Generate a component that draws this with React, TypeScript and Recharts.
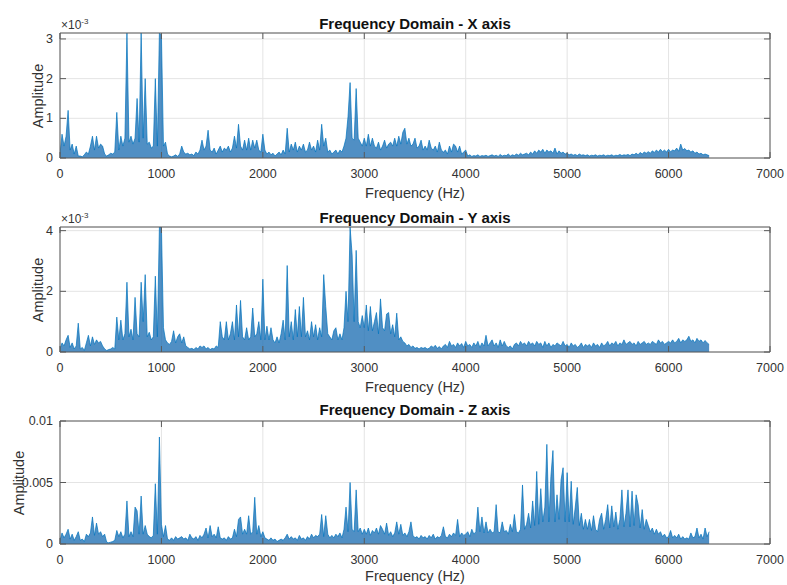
import React from "react";
import { ComposedChart, Area, XAxis, YAxis, CartesianGrid, ReferenceArea } from "recharts";

// Spectrum bins every 20 Hz from 0 to 6400 Hz.
const FREQ_STEP_HZ = 20;

// X axis amplitude, in units of 1e-3
const AMP_X = [
  0.1, 0.6, 0.3, 0.55, 1.2, 0.2, 0.35, 0.1, 0.3, 0.05,
  0.05, 0.03, 0.08, 0.15, 0.1, 0.3, 0.55, 0.2, 0.55, 0.25,
  0.35, 0.3, 0.1, 0.05, 0.08, 0.12, 0.1, 0.15, 1.15, 0.2,
  0.55, 0.3, 0.5, 3.15, 0.4, 0.55, 0.35, 0.5, 1.5, 0.4,
  3.15, 0.5, 2.0, 0.35, 0.4, 0.25, 0.3, 2.0, 0.3, 3.15,
  3.1, 0.3, 0.4, 0.1, 0.05, 0.03, 0.05, 0.08, 0.04, 0.1,
  0.3, 0.15, 0.1, 0.12, 0.08, 0.1, 0.06, 0.15, 0.1, 0.2,
  0.45, 0.2, 0.3, 0.7, 0.2, 0.15, 0.25, 0.1, 0.2, 0.3,
  0.15, 0.25, 0.2, 0.3, 0.15, 0.25, 0.55, 0.25, 0.85, 0.3,
  0.2, 0.45, 0.2, 0.5, 0.2, 0.45, 0.25, 0.45, 0.2, 0.15,
  0.6, 0.2, 0.1, 0.15, 0.08, 0.12, 0.05, 0.1, 0.15, 0.08,
  0.2, 0.1, 0.75, 0.15, 0.35, 0.2, 0.4, 0.15, 0.3, 0.2,
  0.35, 0.15, 0.2, 0.4, 0.2, 0.3, 0.15, 0.45, 0.2, 0.85,
  0.3, 0.5, 0.15, 0.2, 0.1, 0.15, 0.2, 0.1, 0.2, 0.15,
  0.3, 0.5, 1.05, 1.9, 0.5, 0.45, 1.75, 0.5, 0.4, 0.3,
  0.5, 0.3, 0.6, 0.3, 0.5, 0.3, 0.25, 0.4, 0.2, 0.3,
  0.45, 0.25, 0.35, 0.4, 0.3, 0.5, 0.3, 0.55, 0.35, 0.65,
  0.75, 0.35, 0.5, 0.3, 0.35, 0.5, 0.25, 0.3, 0.45, 0.2,
  0.3, 0.2, 0.45, 0.25, 0.2, 0.3, 0.15, 0.4, 0.2, 0.15,
  0.2, 0.1, 0.3, 0.15, 0.35, 0.3, 0.15, 0.3, 0.1, 0.15,
  0.2, 0.05, 0.08, 0.04, 0.06, 0.05, 0.08, 0.04, 0.06, 0.05,
  0.07, 0.04, 0.06, 0.08, 0.05, 0.07, 0.04, 0.09, 0.05, 0.07,
  0.06, 0.1, 0.05, 0.08, 0.06, 0.1, 0.07, 0.12, 0.08, 0.1,
  0.12, 0.08, 0.15, 0.1, 0.18, 0.12, 0.2, 0.15, 0.22, 0.12,
  0.2, 0.15, 0.18, 0.12, 0.25, 0.1, 0.18, 0.12, 0.15, 0.1,
  0.12, 0.08, 0.1, 0.07, 0.09, 0.06, 0.1, 0.07, 0.08, 0.06,
  0.08, 0.05, 0.07, 0.06, 0.08, 0.05, 0.07, 0.06, 0.08, 0.05,
  0.07, 0.06, 0.08, 0.05, 0.07, 0.06, 0.09, 0.06, 0.08, 0.07,
  0.09, 0.06, 0.1, 0.08, 0.12, 0.08, 0.14, 0.1, 0.15, 0.12,
  0.16, 0.12, 0.18, 0.14, 0.2, 0.15, 0.22, 0.16, 0.2, 0.15,
  0.22, 0.16, 0.2, 0.18, 0.25, 0.17, 0.35, 0.2, 0.24, 0.18,
  0.2, 0.15, 0.18, 0.12, 0.15, 0.1, 0.12, 0.08, 0.1, 0.08,
  0.06,
];

// Y axis amplitude, in units of 1e-3
const AMP_Y = [
  0.1, 0.3, 0.2, 0.4, 0.55, 0.15, 0.3, 0.1, 0.2, 0.95,
  0.1, 0.15, 0.05, 0.3, 0.55, 0.2, 0.5, 0.25, 0.4, 0.3,
  0.35, 0.2, 0.1, 0.05, 0.08, 0.1, 0.15, 0.1, 1.15, 0.4,
  1.05, 0.4, 0.6, 2.3, 0.5, 0.75, 0.4, 1.8, 0.6, 0.5,
  2.3, 1.0, 2.55, 0.5, 0.65, 0.4, 0.5, 2.5, 0.5, 4.12,
  4.12, 0.8, 0.4, 0.3, 0.25, 0.35, 0.7, 0.3, 0.5, 0.6,
  0.3, 0.5, 0.2, 0.15, 0.1, 0.12, 0.08, 0.15, 0.1, 0.2,
  0.15, 0.2, 0.1, 0.15, 0.08, 0.12, 0.1, 0.2, 0.15, 1.0,
  0.5, 0.4, 1.0, 0.4, 0.6, 1.0, 0.4, 1.55, 0.5, 1.7,
  0.5, 0.4, 0.8, 0.4, 0.5, 1.45, 0.5, 0.6, 1.0, 0.4,
  2.4, 0.4, 0.85, 0.4, 0.8, 0.4, 0.3, 0.5, 0.3, 0.6,
  1.05, 0.4, 2.85, 0.5, 1.0, 0.4, 1.4, 0.5, 1.5, 0.5,
  1.8, 0.5, 0.7, 0.4, 1.0, 0.5, 0.9, 0.4, 0.8, 0.5,
  2.55, 1.5, 0.6, 0.5, 0.4, 0.7, 0.8, 0.4, 0.6, 0.4,
  0.8, 2.0, 1.0, 4.12, 3.2, 1.0, 3.35, 1.0, 0.8, 1.2,
  0.8, 1.55, 0.7, 1.5, 0.7, 1.0, 1.3, 0.6, 1.75, 0.8,
  0.7, 1.25, 1.3, 0.6, 0.9, 0.5, 1.28, 0.4, 0.5, 0.35,
  0.3, 0.2, 0.25, 0.15, 0.2, 0.12, 0.15, 0.1, 0.15, 0.12,
  0.15, 0.1, 0.12, 0.2, 0.15, 0.22, 0.12, 0.18, 0.1, 0.2,
  0.25, 0.15, 0.35, 0.2, 0.25, 0.15, 0.3, 0.2, 0.28, 0.15,
  0.35, 0.2, 0.25, 0.15, 0.3, 0.2, 0.35, 0.15, 0.3, 0.2,
  0.55, 0.2, 0.3, 0.4, 0.2, 0.3, 0.15, 0.4, 0.2, 0.35,
  0.2, 0.15, 0.2, 0.1, 0.25, 0.3, 0.2, 0.35, 0.25, 0.3,
  0.2, 0.35, 0.25, 0.3, 0.2, 0.35, 0.25, 0.3, 0.15, 0.35,
  0.2, 0.3, 0.15, 0.25, 0.2, 0.3, 0.25, 0.2, 0.35, 0.2,
  0.25, 0.15, 0.3, 0.2, 0.25, 0.15, 0.2, 0.3, 0.15, 0.25,
  0.2, 0.25, 0.15, 0.3, 0.2, 0.25, 0.15, 0.3, 0.2, 0.25,
  0.35, 0.2, 0.3, 0.25, 0.35, 0.2, 0.3, 0.25, 0.4, 0.25,
  0.3, 0.35, 0.25, 0.3, 0.2, 0.35, 0.25, 0.3, 0.35, 0.25,
  0.3, 0.25, 0.35, 0.3, 0.25, 0.4, 0.3, 0.35, 0.25, 0.3,
  0.35, 0.3, 0.4, 0.3, 0.35, 0.45, 0.3, 0.4, 0.35, 0.4,
  0.52, 0.35, 0.4, 0.3, 0.45, 0.35, 0.4, 0.3, 0.38, 0.3,
  0.25,
];

// Z axis amplitude, in units of 1e-3
const AMP_Z = [
  0.3, 0.9, 0.5, 0.8, 1.2, 0.4, 0.8, 0.3, 0.6, 1.0,
  0.3, 0.4, 0.2, 0.8, 0.6, 0.9, 2.2, 0.7, 1.7, 0.8,
  1.0, 0.6, 0.8, 0.15, 0.1, 0.15, 0.2, 0.3, 1.1, 0.6,
  1.0, 0.5, 0.8, 3.5, 0.6, 1.0, 0.6, 3.0, 2.7, 0.8,
  3.9, 0.8, 1.5, 0.8, 0.6, 0.5, 0.7, 4.9, 0.8, 8.7,
  1.6, 0.6, 1.5, 0.4, 0.3, 0.5, 0.3, 0.6, 0.4, 0.5,
  0.6, 0.4, 0.5, 0.3, 0.8, 0.5, 0.4, 0.6, 0.3, 0.7,
  0.5, 0.8, 1.3, 0.5, 1.5, 0.6, 0.8, 0.5, 1.4, 0.5,
  0.4, 0.5, 0.3, 0.6, 0.4, 0.5, 1.2, 0.6, 2.0, 2.2,
  0.8, 1.2, 0.8, 2.3, 0.8, 1.0, 3.8, 0.8, 1.5, 0.6,
  1.0, 0.5, 0.4, 0.3, 0.5, 0.3, 0.4, 0.2, 0.3, 0.4,
  0.3, 0.5, 0.8, 0.4, 0.6, 0.4, 0.5, 0.3, 0.7, 0.4,
  0.5, 0.3, 0.6, 0.4, 0.8, 0.5, 0.7, 0.6, 0.8, 2.4,
  0.6, 2.3, 0.8, 0.5, 0.7, 0.5, 0.8, 0.6, 0.9, 0.5,
  1.2, 3.0, 1.0, 5.0, 1.2, 1.0, 4.4, 1.0, 1.3, 0.8,
  1.2, 0.8, 1.3, 0.7, 1.1, 0.9, 1.3, 0.8, 1.5, 1.2,
  0.8, 1.7, 0.7, 1.0, 0.6, 0.9, 1.8, 0.8, 1.6, 0.7,
  0.9, 0.6, 1.0, 1.8, 0.7, 0.5, 0.6, 0.4, 0.7, 0.5,
  0.6, 0.4, 0.7, 0.5, 0.8, 0.4, 0.6, 0.5, 0.7, 1.4,
  0.6, 0.5, 0.8, 0.6, 0.9, 0.7, 2.0, 0.6, 0.9, 0.7,
  0.8, 1.0, 0.6, 1.2, 0.8, 1.0, 3.0, 1.0, 2.2, 0.9,
  1.8, 0.9, 1.2, 0.9, 1.0, 3.2, 1.0, 0.9, 1.8, 1.0,
  1.1, 0.8, 1.6, 1.0, 2.4, 1.0, 0.9, 1.2, 4.8, 1.2,
  1.6, 2.5, 1.3, 3.5, 1.5, 5.9, 1.6, 4.5, 1.8, 3.0,
  8.1, 1.8, 5.5, 7.6, 1.8, 4.0, 2.0, 5.2, 6.2, 1.8,
  5.8, 1.8, 5.1, 1.6, 3.0, 4.6, 1.5, 2.5, 1.2, 2.0,
  1.2, 2.0, 1.1, 2.3, 1.2, 1.0, 2.0, 2.5, 1.2, 2.0,
  3.2, 1.3, 3.1, 1.4, 2.6, 1.2, 2.0, 4.4, 1.4, 2.5,
  4.4, 1.4, 4.3, 1.5, 4.0, 3.2, 1.3, 2.8, 1.2, 2.0,
  1.5, 1.0, 1.3, 0.8, 1.2, 0.8, 1.0, 0.6, 0.8, 0.5,
  0.6, 1.1, 0.5, 0.7, 0.5, 0.8, 0.4, 0.6, 0.4, 0.5,
  0.4, 0.9, 0.5, 0.6, 1.3, 0.5, 0.8, 0.4, 1.3, 0.6,
  1.0,
];

const X_TICKS = [0, 1000, 2000, 3000, 4000, 5000, 6000, 7000];
const X_DOMAIN = [0, 7000];

const PANEL_TITLES = ["Frequency Domain - X axis", "Frequency Domain - Y axis", "Frequency Domain - Z axis"];
const X_LABEL = "Frequency (Hz)";
const Y_LABEL = "Amplitude";

const Y_TICKS_X = [0, 1, 2, 3];
const Y_TICK_LABELS_X = ["0", "1", "2", "3"];
const Y_MAX_X = 3.15;

const Y_TICKS_Y = [0, 2, 4];
const Y_TICK_LABELS_Y = ["0", "2", "4"];
const Y_MAX_Y = 4.12;

const Y_TICKS_Z = [0, 5, 10];
const Y_TICK_LABELS_Z = ["0", "0.005", "0.01"];
const Y_MAX_Z = 10;

const EXPONENT_LABEL = "-3";

// ---------- styling ----------
const FONT = '"Liberation Sans", Arial, Helvetica, sans-serif';
const LINE_COLOR = "#0072BD";
const FILL_COLOR = "#1669b0";
const AXIS_COLOR = "#5a5a5a";
const TEXT_COLOR = "#333333";
const GRID_COLOR = "#e4e4e4";
const W = 787;
const PLOT_LEFT = 60;
const PLOT_RIGHT = 770;
const TICK_LEN = 6;

type PanelProps = {
  top: number;
  height: number;
  plotTop: number;
  plotBottom: number;
  values: number[];
  yMax: number;
  yTicks: number[];
  yTickLabels: string[];
  title: string;
  titleY: number;
  xLabelOffset: number;
  showExponent: boolean;
  yLabelX: number;
};

function Panel(p: PanelProps) {
  const data = p.values.map((a, i) => ({ f: i * FREQ_STEP_HZ, a }));
  const xAxisHeight = 30;
  const marginBottom = p.height - p.plotBottom - xAxisHeight;

  const XTick = (props: any) => {
    const { x, payload } = props;
    return (
      <g>
        <line x1={x} x2={x} y1={p.plotBottom} y2={p.plotBottom - TICK_LEN} stroke={AXIS_COLOR} strokeWidth={1} />
        <line x1={x} x2={x} y1={p.plotTop} y2={p.plotTop + TICK_LEN} stroke={AXIS_COLOR} strokeWidth={1} />
        <text
          x={x}
          y={p.plotBottom + 16}
          textAnchor="middle"
          dominantBaseline="central"
          fontFamily={FONT}
          fontSize={12.5}
          fill={TEXT_COLOR}
        >
          {String(payload.value)}
        </text>
      </g>
    );
  };

  const YTick = (props: any) => {
    const { y, payload } = props;
    const idx = p.yTicks.indexOf(payload.value);
    return (
      <g>
        <line x1={PLOT_LEFT} x2={PLOT_LEFT + TICK_LEN} y1={y} y2={y} stroke={AXIS_COLOR} strokeWidth={1} />
        <line x1={PLOT_RIGHT} x2={PLOT_RIGHT - TICK_LEN} y1={y} y2={y} stroke={AXIS_COLOR} strokeWidth={1} />
        <text
          x={PLOT_LEFT - 7}
          y={y}
          textAnchor="end"
          dominantBaseline="central"
          fontFamily={FONT}
          fontSize={12.5}
          fill={TEXT_COLOR}
        >
          {idx >= 0 ? p.yTickLabels[idx] : String(payload.value)}
        </text>
      </g>
    );
  };

  const midY = (p.plotTop + p.plotBottom) / 2;

  return (
    <div style={{ position: "absolute", left: 0, top: p.top, width: W, height: p.height }}>
      <ComposedChart
        width={W}
        height={p.height}
        data={data}
        margin={{ top: p.plotTop, right: W - PLOT_RIGHT, bottom: marginBottom, left: 0 }}
      >
        <CartesianGrid stroke={GRID_COLOR} strokeWidth={1} />
        <XAxis
          type="number"
          dataKey="f"
          domain={X_DOMAIN}
          ticks={X_TICKS}
          interval={0}
          allowDataOverflow
          height={xAxisHeight}
          axisLine={false}
          tickLine={false}
          tick={XTick}
        />
        <YAxis
          type="number"
          domain={[0, p.yMax]}
          ticks={p.yTicks}
          interval={0}
          allowDataOverflow
          width={PLOT_LEFT}
          axisLine={false}
          tickLine={false}
          tick={YTick}
        />
        <Area
          type="linear"
          dataKey="a"
          stroke={LINE_COLOR}
          strokeWidth={0.7}
          fill={FILL_COLOR}
          fillOpacity={0.75}
          dot={false}
          activeDot={false}
          isAnimationActive={false}
        />
        <ReferenceArea
          x1={0}
          x2={7000}
          y1={0}
          y2={p.yMax}
          fill="none"
          fillOpacity={0}
          stroke={AXIS_COLOR}
          strokeWidth={1}
          ifOverflow="visible"
        />
      </ComposedChart>

      <div
        style={{
          position: "absolute",
          left: (PLOT_LEFT + PLOT_RIGHT) / 2,
          top: p.titleY,
          transform: "translate(-50%, -50%)",
          fontFamily: FONT,
          fontWeight: "bold",
          fontSize: 15,
          color: "#111",
          whiteSpace: "nowrap",
        }}
      >
        {p.title}
      </div>

      <div
        style={{
          position: "absolute",
          left: (PLOT_LEFT + PLOT_RIGHT) / 2,
          top: p.plotBottom + p.xLabelOffset,
          transform: "translate(-50%, -50%)",
          fontFamily: FONT,
          fontSize: 14.5,
          lineHeight: "16px",
          color: TEXT_COLOR,
          whiteSpace: "nowrap",
        }}
      >
        {X_LABEL}
      </div>

      <div
        style={{
          position: "absolute",
          left: p.yLabelX,
          top: midY,
          transform: "translate(-50%, -50%) rotate(-90deg)",
          fontFamily: FONT,
          fontSize: 14.5,
          color: TEXT_COLOR,
          whiteSpace: "nowrap",
        }}
      >
        {Y_LABEL}
      </div>

      {p.showExponent && (
        <div
          style={{
            position: "absolute",
            left: PLOT_LEFT + 1,
            top: p.plotTop - 15,
            fontFamily: FONT,
            fontSize: 12,
            color: TEXT_COLOR,
            whiteSpace: "nowrap",
            lineHeight: "14px",
          }}
        >
          {"\u00d710"}
          <span style={{ fontSize: 8, position: "relative", top: -5 }}>{EXPONENT_LABEL}</span>
        </div>
      )}
    </div>
  );
}

export default function App() {
  return (
    <div
      style={{
        position: "absolute",
        left: 0,
        top: 0,
        width: W,
        height: 585,
        overflow: "hidden",
        background: "#fff",
      }}
    >
      <Panel
        top={0}
        height={200}
        plotTop={33}
        plotBottom={158}
        values={AMP_X}
        yMax={Y_MAX_X}
        yTicks={Y_TICKS_X}
        yTickLabels={Y_TICK_LABELS_X}
        title={PANEL_TITLES[0]}
        titleY={23}
        xLabelOffset={35}
        showExponent
        yLabelX={38}
      />
      <Panel
        top={194}
        height={200}
        plotTop={33}
        plotBottom={158}
        values={AMP_Y}
        yMax={Y_MAX_Y}
        yTicks={Y_TICKS_Y}
        yTickLabels={Y_TICK_LABELS_Y}
        title={PANEL_TITLES[1]}
        titleY={23}
        xLabelOffset={35}
        showExponent
        yLabelX={38}
      />
      <Panel
        top={388}
        height={197}
        plotTop={33}
        plotBottom={156}
        values={AMP_Z}
        yMax={Y_MAX_Z}
        yTicks={Y_TICKS_Z}
        yTickLabels={Y_TICK_LABELS_Z}
        title={PANEL_TITLES[2]}
        titleY={21}
        xLabelOffset={32}
        showExponent={false}
        yLabelX={19}
      />
    </div>
  );
}
